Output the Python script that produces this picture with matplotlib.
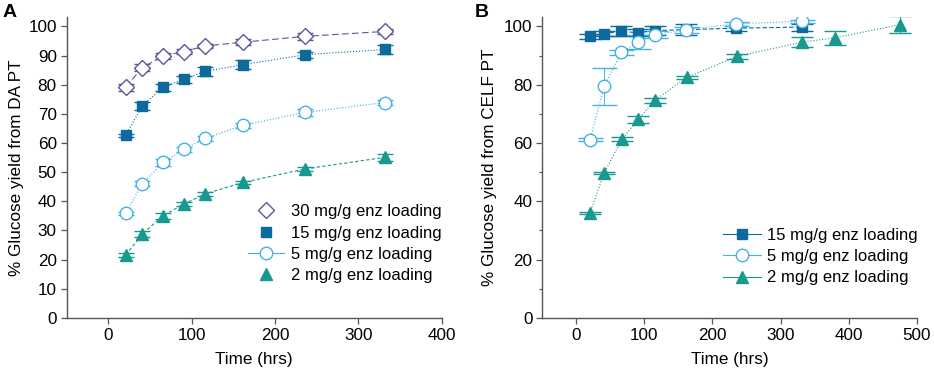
import numpy as np
import matplotlib.pyplot as plt
from matplotlib.lines import Line2D

plt.rcParams['font.family'] = ['Liberation Sans', 'DejaVu Sans']

# ---- panel A data (DA PT) ----
tA = [21, 41, 66, 91, 116, 162, 236, 332]
a30 = [79.2, 85.9, 89.9, 91.4, 93.3, 94.6, 96.6, 98.3]
a15 = [62.6, 72.8, 79.2, 81.9, 84.6, 86.9, 90.3, 92.1]
a5 = [35.9, 46.1, 53.4, 57.8, 61.6, 66.1, 70.5, 73.9]
a2 = [21.6, 28.8, 35.1, 39.1, 42.5, 46.5, 51.1, 55.1]
a30_err = [1.2, 1.2, 1.0, 0.8, 0.8, 1.0, 1.2, 0.8]
a15_err = [0.6, 1.3, 1.2, 1.2, 1.5, 1.6, 1.0, 1.5]
a5_err = [0.6, 0.8, 1.2, 1.0, 0.8, 0.8, 1.2, 0.8]
a2_err = [0.8, 1.0, 1.0, 0.7, 0.6, 0.6, 0.8, 1.2]

# ---- panel B data (CELF PT) ----
tB = [20, 41, 66, 90, 115, 161, 235, 331]
b15 = [96.6, 97.5, 98.4, 97.8, 98.6, 98.9, 99.4, 99.8]
b5 = [61.1, 79.5, 91.1, 94.6, 97.1, 98.9, 100.9, 101.8]
b15_err = [0.8, 0.8, 1.8, 1.2, 1.5, 2.0, 0.8, 1.2]
b5_err = [0.5, 6.3, 0.8, 2.5, 1.2, 1.0, 0.6, 0.5]
tB2 = [20, 41, 67, 91, 115, 162, 236, 331, 380, 475]
b2 = [36.0, 49.8, 61.3, 68.2, 74.6, 82.5, 89.7, 94.6, 96.1, 100.6]
b2_err = [0.4, 0.4, 0.6, 1.2, 0.8, 0.6, 0.8, 1.8, 2.5, 3.0]

c30 = '#5b5896'
c15 = '#0d6a9c'
c5 = '#45b2e4'
c2 = '#17998f'

FS = 12.3

fig = plt.figure(figsize=(9.34, 3.74), dpi=100)
axA = fig.add_axes([0.0712, 0.150, 0.4017, 0.805])
axB = fig.add_axes([0.5806, 0.150, 0.4009, 0.805])


def series(ax, t, y, err, color, marker, ls, filled, ms, capsize):
    ax.errorbar(t, y, yerr=err, color=color, ls=ls, lw=0.8,
                marker=marker, ms=ms, mfc=color if filled else 'white',
                mec=color, mew=1.0, ecolor=color, elinewidth=0.7,
                capsize=capsize, capthick=0.7)


series(axA, tA, a30, a30_err, c30, 'D', (0, (6, 3)), False, 8, 6)
series(axA, tA, a15, a15_err, c15, 's', ':', True, 7, 6)
series(axA, tA, a5, a5_err, c5, 'o', ':', False, 9, 6)
series(axA, tA, a2, a2_err, c2, '^', (0, (3, 2)), True, 9, 6)

series(axB, tB, b15, b15_err, c15, 's', (0, (4, 2)), True, 7, 8)
series(axB, tB, b5, b5_err, c5, 'o', ':', False, 9, 9)
series(axB, tB2, b2, b2_err, c2, '^', ':', True, 9, 8)

for ax in (axA, axB):
    for s in ('top', 'right'):
        ax.spines[s].set_visible(False)
    for s in ('left', 'bottom'):
        ax.spines[s].set_color('#555555')
        ax.spines[s].set_linewidth(1.0)
    ax.tick_params(direction='out', length=4, width=0.9, color='#555555',
                   labelsize=FS, pad=3)
    ax.tick_params(which='minor', direction='out', length=2.5, width=0.8,
                   color='#555555')
    ax.set_ylim(0, 103.3)
    ax.set_xlabel('Time (hrs)', fontsize=FS, labelpad=7)

axA.set_xlim(-50, 400)
axA.set_xticks([0, 100, 200, 300, 400])
axA.set_yticks(np.arange(0, 101, 10))
axA.set_ylabel('% Glucose yield from DA PT', fontsize=FS, labelpad=3)

axB.set_xlim(-50, 500)
axB.set_xticks([0, 100, 200, 300, 400, 500])
axB.set_yticks(np.arange(0, 101, 20))
axB.set_yticks(np.arange(10, 100, 20), minor=True)
axB.set_ylabel('% Glucose yield from CELF PT', fontsize=FS, labelpad=5)

hA = [
    Line2D([], [], ls='none', marker='D', ms=8, mfc='white', mec=c30),
    Line2D([], [], ls='none', marker='s', ms=7, mfc=c15, mec=c15),
    Line2D([], [], ls='-', lw=0.8, marker='o', ms=9, mfc='white', mec=c5, color=c5),
    Line2D([], [], ls='none', marker='^', ms=9, mfc=c2, mec=c2),
]
labA = ['30 mg/g enz loading', '15 mg/g enz loading',
        '5 mg/g enz loading', '2 mg/g enz loading']
axA.legend(hA, labA, loc='upper left', bbox_to_anchor=(0.461, 0.405),
           frameon=False, fontsize=12, handlelength=2.2, handletextpad=0.4,
           borderpad=0, labelspacing=0.38)

hB = [
    Line2D([], [], ls='-', lw=0.8, color=c15, marker='s', ms=7, mfc=c15, mec=c15),
    Line2D([], [], ls='-', lw=0.8, color=c5, marker='o', ms=9, mfc='white', mec=c5),
    Line2D([], [], ls='-', lw=0.8, color=c2, marker='^', ms=9, mfc=c2, mec=c2),
]
labB = ['15 mg/g enz loading', '5 mg/g enz loading', '2 mg/g enz loading']
axB.legend(hB, labB, loc='upper left', bbox_to_anchor=(0.461, 0.327),
           frameon=False, fontsize=12, handlelength=2.25, handletextpad=0.4,
           borderpad=0, labelspacing=0.38)

fig.text(0.003, 0.99, 'A', fontsize=14, fontweight='bold', va='top')
fig.text(0.508, 0.99, 'B', fontsize=14, fontweight='bold', va='top')

fig.savefig('out.png', dpi=100)
